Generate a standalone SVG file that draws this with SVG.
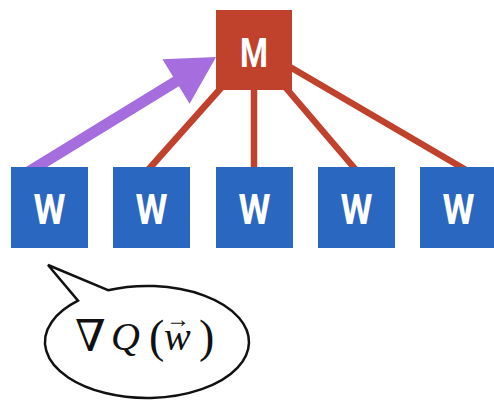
<svg xmlns="http://www.w3.org/2000/svg" width="494" height="404" viewBox="0 0 494 404">
<style>
.red{stroke:#c0412c;stroke-width:6.5;fill:none}
.m{fill:#c0412c}
.w{fill:#2967c0}
.lbl{font-family:Roboto,"Liberation Sans",sans-serif;font-weight:bold;fill:#fff;text-anchor:middle}
.math{font-family:"Liberation Serif","DejaVu Serif",serif;font-size:40px;fill:#111}
</style>
<rect width="494" height="404" fill="#fff"/>
<g id="connectors">
<line class="red" x1="221" y1="88" x2="148" y2="170"/>
<line class="red" x1="254" y1="88" x2="254" y2="170"/>
<line class="red" x1="286" y1="88" x2="356" y2="170"/>
<line class="red" x1="290" y1="67" x2="466" y2="170"/>
<polygon fill="#a66ddf" points="25.5,167.3 173.1,76.8 162.4,59.3 216.1,57 189.6,103.7 178.9,86.2 31.3,176.7"/>
</g>
<g id="M">
<rect class="m" x="216" y="10" width="76" height="80"/>
<text class="lbl" x="254" y="67" font-size="40" textLength="28" lengthAdjust="spacingAndGlyphs">M</text>
</g>
<g id="W1"><rect class="w" x="11" y="167" width="77" height="81"/><text class="lbl" x="49.5" y="224" font-size="43" textLength="32" lengthAdjust="spacingAndGlyphs">W</text></g>
<g id="W2"><rect class="w" x="113" y="167" width="77" height="81"/><text class="lbl" x="151.5" y="224" font-size="43" textLength="32" lengthAdjust="spacingAndGlyphs">W</text></g>
<g id="W3"><rect class="w" x="216" y="167" width="77" height="81"/><text class="lbl" x="254.5" y="224" font-size="43" textLength="32" lengthAdjust="spacingAndGlyphs">W</text></g>
<g id="W4"><rect class="w" x="318" y="167" width="77" height="81"/><text class="lbl" x="356.5" y="224" font-size="43" textLength="32" lengthAdjust="spacingAndGlyphs">W</text></g>
<g id="W5"><rect class="w" x="420" y="167" width="77" height="81"/><text class="lbl" x="458.5" y="224" font-size="43" textLength="32" lengthAdjust="spacingAndGlyphs">W</text></g>
<g id="callout">
<path d="M108 290.2 L48 265 L78 300.7 A102 56 0 1 0 108 290.2 Z" fill="#fff" stroke="#111" stroke-width="2.5" stroke-linejoin="miter"/>
<text class="math"><tspan x="75" y="351" font-family="'DejaVu Serif',serif" font-size="44">∇</tspan><tspan x="111" y="350" font-style="italic">Q</tspan><tspan x="149" y="352" font-size="46">(</tspan><tspan x="164" y="350" font-style="italic">w</tspan><tspan x="199" y="352" font-size="46">)</tspan><tspan x="166" y="327" font-size="24">→</tspan></text>
</g>
</svg>
